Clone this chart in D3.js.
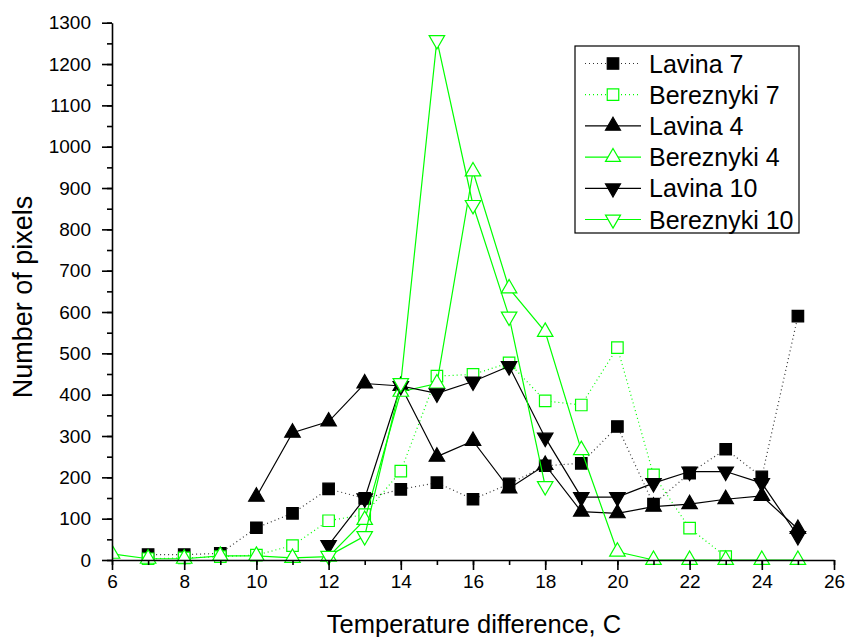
<!DOCTYPE html>
<meta charset="utf-8">
<head>
	<title>Number of pixels vs temperature difference</title>
</head>

<style>

body {
	margin: 0;
	background: #fff;
}

svg {
	font-family: "Liberation Sans", Arial, sans-serif;
}

.axis path, .axis line {
	stroke: #000;
	stroke-width: 1.6;
}

.axis text {
	font-size: 19px;
	fill: #000;
}

</style>

<body>

<svg width="847" height="637"></svg>

<script src="https://cdnjs.cloudflare.com/ajax/libs/d3/7.8.5/d3.min.js"></script>
<script>

// data
var lavina7X = [7, 8, 9, 10, 11, 12, 13, 14, 15, 16, 17, 18, 19, 20, 21, 22, 23, 24, 25];
var lavina7 = [13, 13, 16, 78, 113, 172, 149, 171, 187, 147, 184, 228, 234, 323, 135, 210, 268, 201, 590];

var bereznyki7X = [7, 8, 9, 10, 11, 12, 13, 14, 15, 16, 17, 18, 19, 20, 21, 22, 23];
var bereznyki7 = [3, 5, 8, 12, 35, 95, 110, 215, 445, 449, 477, 385, 375, 514, 206, 77, 8];

var lavina4X = [10, 11, 12, 13, 14, 15, 16, 17, 18, 19, 20, 21, 22, 23, 24, 25];
var lavina4 = [153, 308, 335, 427, 421, 250, 288, 173, 230, 117, 113, 129, 135, 147, 155, 75];

var bereznyki4X = [6, 7, 8, 9, 10, 11, 12, 13, 14, 15, 16, 17, 18, 19, 20, 21, 22, 23, 24, 25];
var bereznyki4 = [15, 3, 3, 10, 10, 5, 8, 97, 407, 427, 940, 657, 552, 266, 20, 0, 0, 0, 0, 0];

var lavina10X = [12, 13, 14, 15, 16, 17, 18, 19, 20, 21, 22, 23, 24, 25];
var lavina10 = [36, 149, 421, 403, 432, 469, 296, 152, 152, 186, 214, 214, 186, 58];

var bereznyki10X = [12, 13, 14, 15, 16, 17, 18];
var bereznyki10 = [10, 58, 428, 1258, 859, 589, 179];

var seriesNames = ['Lavina 7', 'Bereznyki 7', 'Lavina 4', 'Bereznyki 4', 'Lavina 10', 'Bereznyki 10'];

var xTicks = [6, 8, 10, 12, 14, 16, 18, 20, 22, 24, 26];
var yTicks = [0, 100, 200, 300, 400, 500, 600, 700, 800, 900, 1000, 1100, 1200, 1300];

var green = '#00ff00';

var series = [
	{name: seriesNames[0], xs: lavina7X, ys: lavina7, color: '#000', dash: '1,3', lineColor: '#333', marker: 'square', filled: true},
	{name: seriesNames[1], xs: bereznyki7X, ys: bereznyki7, color: green, dash: '1,3', lineColor: green, marker: 'square', filled: false},
	{name: seriesNames[2], xs: lavina4X, ys: lavina4, color: '#000', dash: null, lineColor: '#000', marker: 'up', filled: true},
	{name: seriesNames[3], xs: bereznyki4X, ys: bereznyki4, color: green, dash: null, lineColor: green, marker: 'up', filled: false},
	{name: seriesNames[4], xs: lavina10X, ys: lavina10, color: '#000', dash: null, lineColor: '#000', marker: 'down', filled: true},
	{name: seriesNames[5], xs: bereznyki10X, ys: bereznyki10, color: green, dash: null, lineColor: green, marker: 'down', filled: false}
];

var svg = d3.select('svg');

var x = d3.scaleLinear().domain([6, 26]).range([112, 834]);
var y = d3.scaleLinear().domain([0, 1300]).range([560, 22.7]);

// marks are cut at the left axis, as in the original
svg.append('clipPath')
	.attr('id', 'plot')
	.append('rect')
	.attr('x', 112)
	.attr('y', 0)
	.attr('width', 735)
	.attr('height', 600);

var plot = svg.append('g').attr('clip-path', 'url(#plot)');

function markerPath(type, size) {
	if (type == 'square') {
		return d3.symbol().type(d3.symbolSquare).size(size * size)();
	}
	var h = size * Math.sqrt(3) / 2;
	if (type == 'up') {
		return 'M0,' + (-h * 2 / 3) + 'L' + (size / 2) + ',' + (h / 3) + 'L' + (-size / 2) + ',' + (h / 3) + 'Z';
	}
	return 'M0,' + (h * 2 / 3) + 'L' + (size / 2) + ',' + (-h / 3) + 'L' + (-size / 2) + ',' + (-h / 3) + 'Z';
}

var line = d3.line()
	.x(function(d) { return x(d[0]); })
	.y(function(d) { return y(d[1]); });

series.forEach(function(s) {
	var pts = d3.zip(s.xs, s.ys);
	var g = plot.append('g');
	g.append('path')
		.attr('d', line(pts))
		.attr('fill', 'none')
		.attr('stroke', s.lineColor)
		.attr('stroke-width', 1.2)
		.attr('stroke-dasharray', s.dash);
	g.selectAll('path.mark')
		.data(pts)
		.enter()
		.append('path')
		.attr('class', 'mark')
		.attr('transform', function(d) { return 'translate(' + x(d[0]) + ',' + y(d[1]) + ')'; })
		.attr('d', markerPath(s.marker, s.marker == 'square' ? 11.5 : 15.5))
		.attr('fill', s.filled ? s.color : '#fff')
		.attr('stroke', s.color)
		.attr('stroke-width', 1.2);
});

// minor ticks first, then major ones with labels
svg.append('g')
	.attr('class', 'axis')
	.attr('transform', 'translate(0,560)')
	.call(d3.axisBottom(x).tickValues(d3.range(6, 27, 1)).tickSize(5).tickFormat(''))
	.select('.domain').remove();

svg.append('g')
	.attr('class', 'axis')
	.attr('transform', 'translate(0,560)')
	.call(d3.axisBottom(x).tickValues(xTicks).tickSize(10).tickSizeOuter(0).tickPadding(5).tickFormat(d3.format('d')));

svg.append('g')
	.attr('class', 'axis')
	.attr('transform', 'translate(112,0)')
	.call(d3.axisLeft(y).tickValues(d3.range(0, 1301, 50)).tickSize(5).tickFormat(''))
	.select('.domain').remove();

svg.append('g')
	.attr('class', 'axis')
	.attr('transform', 'translate(112,0)')
	.call(d3.axisLeft(y).tickValues(yTicks).tickSize(10).tickSizeOuter(0).tickPadding(11).tickFormat(d3.format('d')));

svg.append('text')
	.attr('x', 474)
	.attr('y', 633)
	.attr('text-anchor', 'middle')
	.style('font-size', '25.5px')
	.text('Temperature difference, C');

svg.append('text')
	.attr('transform', 'translate(32,297) rotate(-90)')
	.attr('text-anchor', 'middle')
	.style('font-size', '27px')
	.text('Number of pixels');

// legend
var legend = svg.append('g');
legend.append('rect')
	.attr('x', 575)
	.attr('y', 46)
	.attr('width', 224)
	.attr('height', 187)
	.attr('fill', '#fff')
	.attr('stroke', '#000')
	.attr('stroke-width', 1.2);

var rows = legend.selectAll('g.row')
	.data(series)
	.enter()
	.append('g')
	.attr('class', 'row')
	.attr('transform', function(d, i) { return 'translate(0,' + (63.5 + i * 31.2) + ')'; });

rows.append('line')
	.attr('x1', 585)
	.attr('x2', 641)
	.attr('stroke', function(d) { return d.lineColor; })
	.attr('stroke-width', 1.2)
	.attr('stroke-dasharray', function(d) { return d.dash; });

rows.append('path')
	.attr('transform', 'translate(613,0)')
	.attr('d', function(d) { return markerPath(d.marker, d.marker == 'square' ? 11.5 : 15); })
	.attr('fill', function(d) { return d.filled ? d.color : '#fff'; })
	.attr('stroke', function(d) { return d.color; })
	.attr('stroke-width', 1.2);

rows.append('text')
	.attr('x', 649)
	.attr('y', 9)
	.style('font-size', '25px')
	.text(function(d) { return d.name; });

</script>

</body>
</html>
